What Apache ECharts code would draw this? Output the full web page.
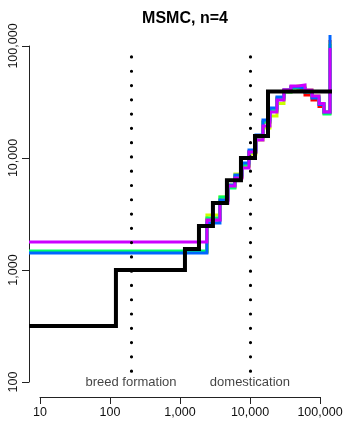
<!DOCTYPE html>
<html><head><meta charset="utf-8">
<script src="https://cdn.jsdelivr.net/npm/echarts@6/dist/echarts.min.js"></script>
<style>html,body{margin:0;padding:0;background:#fff}#c{width:347px;height:423px}</style>
</head><body><div id="c"></div>
<script>
// ---- data ----
const titleText = 'MSMC, n=4';
const xTicks = [10, 100, 1000, 10000, 100000];
const yTicks = [100, 1000, 10000, 100000];

// time boundaries (years) shared by the MSMC estimates
const colTimes = [7, 2430, 3730, 4850, 6100, 7690, 9680, 12180, 15340, 19310, 24310, 30600, 38520, 48500, 61050, 76860, 96760, 114000, 139000];
const redNe     = [1448, 2795, 4217, 5508, 6764, 8483, 11310, 15400, 20960, 26830, 34350, 40460, 43050, 40460, 36520, 32970, 28880, 25230, 113200];
const yellowNe  = [1448, 3098, 4484, 5741, 7197, 8483, 10860, 14480, 18530, 23710, 30720, 38820, 42170, 43950, 40460, 35790, 30720, 25750, 108600];
const greenNe   = [1478, 2911, 4484, 5395, 6905, 8660, 11310, 15400, 20960, 26830, 33650, 38820, 42170, 42170, 38820, 35060, 30720, 24720, 104200];
const blueNe    = [1419, 2628, 4217, 5741, 7050, 9025, 11790, 16040, 21840, 27930, 35060, 40460, 43050, 42170, 38820, 34350, 30100, 25750, 125400];
const magentaNe = [1778, 2795, 3964, 5623, 6625, 8140, 11310, 14480, 19310, 25750, 32970, 40460, 43950, 44840, 40460, 35790, 30720, 25750, 95950];

// simulated (true) model
const modelTimes = [7, 122, 1180, 1870, 2960, 4690, 7440, 11800, 18100, 148400];
const modelNe    = [316, 1000, 1540, 2470, 3960, 6330, 10000, 15700, 39300, 39300];

// events
const eventTimes = [200, 10000];
const eventLabels = ['breed formation', 'domestication'];
const eventSpan = [122, 79800];
const eventLabelNe = 100;

const seriesColors = ['#FF0000', '#CCFF00', '#00FF66', '#0066FF', '#CC00FF'];
const seriesNe = [redNe, yellowNe, greenNe, blueNe, magentaNe];

// ---- chart ----
const FONT = 'Liberation Sans, Arial, sans-serif';
const fmt = v => Math.round(v).toLocaleString('en-US');
const chart = echarts.init(document.getElementById('c'), null, {renderer: 'canvas'});

const series = [];
seriesNe.forEach((ne, k) => {
  series.push({
    type: 'line', xAxisIndex: 0, yAxisIndex: 0, step: 'end', symbol: 'none',
    lineStyle: {color: seriesColors[k], width: 3, join: 'miter'},
    data: colTimes.map((t, i) => [t, ne[i]]), silent: true, animation: false
  });
});
series.push({
  type: 'line', xAxisIndex: 0, yAxisIndex: 0, step: 'end', symbol: 'none',
  lineStyle: {color: '#000', width: 4, join: 'miter'},
  data: modelTimes.map((t, i) => [t, modelNe[i]]), silent: true, animation: false,
  markLine: {
    silent: true, symbol: 'none', animation: false,
    label: {show: false},
    lineStyle: {color: '#000', width: 3.2, type: [0, 14.28], cap: 'round'},
    data: eventTimes.map(t => [{coord: [t, eventSpan[1]]}, {coord: [t, eventSpan[0]]}])
  }
});
series.push({
  type: 'scatter', xAxisIndex: 0, yAxisIndex: 0, symbolSize: 1,
  itemStyle: {color: 'rgba(0,0,0,0)'}, silent: true, animation: false,
  label: {show: true, position: 'inside', formatter: p => p.data[2],
          fontFamily: FONT, fontSize: 13, color: '#111'},
  data: eventTimes.map((t, i) => [t, eventLabelNe, eventLabels[i]])
});

chart.setOption({
  animation: false,
  backgroundColor: '#fff',
  title: {text: titleText, left: 180, top: 6, textAlign: 'center',
          textStyle: {fontFamily: FONT, fontSize: 16, fontWeight: 'bold', color: '#000'}},
  grid: [
    {left: 29, right: 15, top: 18, bottom: 26},
    {left: 40, right: 27, top: 46, bottom: 41}
  ],
  xAxis: [
    {type: 'log', gridIndex: 0, min: 7, max: 148400, show: false},
    {type: 'log', gridIndex: 1, min: xTicks[0], max: xTicks[xTicks.length - 1], position: 'bottom', offset: 15,
     axisLine: {show: true, lineStyle: {color: '#222', width: 1}},
     axisTick: {show: true, length: 7, lineStyle: {color: '#222'}},
     splitLine: {show: false}, minorTick: {show: false},
     axisLabel: {formatter: fmt, fontFamily: FONT, fontSize: 12.5, color: '#111', margin: 9,
                 showMinLabel: true, showMaxLabel: true}}
  ],
  yAxis: [
    {type: 'log', gridIndex: 0, min: 73.5, max: 177800, show: false},
    {type: 'log', gridIndex: 1, min: yTicks[0], max: yTicks[yTicks.length - 1], position: 'left', offset: 11,
     axisLine: {show: true, lineStyle: {color: '#222', width: 1}},
     axisTick: {show: true, length: 7, lineStyle: {color: '#222'}},
     splitLine: {show: false}, minorTick: {show: false},
     axisLabel: {show: false}}
  ],
  series: series
});

// y tick labels, placed through the axis scale, centred on their ticks
const yLabelEls = yTicks.map(v => {
  const py = chart.convertToPixel({yAxisIndex: 1}, v);
  return {
    type: 'text', x: 14, y: py, rotation: Math.PI / 2, silent: true,
    style: {text: fmt(v), fontFamily: FONT, fontSize: 12.5, fill: '#111',
            textAlign: 'center', textVerticalAlign: 'middle'}
  };
});
chart.setOption({graphic: yLabelEls});
</script></body></html>
